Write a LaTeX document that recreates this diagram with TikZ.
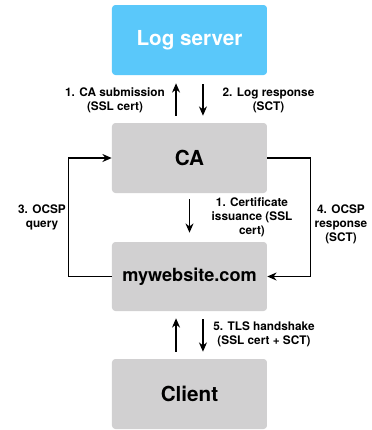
\documentclass[tikz,border=0pt]{standalone}
\usepackage{fontspec}
\setmainfont{TeX Gyre Heros}
\usetikzlibrary{arrows.meta}
\definecolor{logblue}{HTML}{5AC8FA}
\definecolor{boxgray}{HTML}{D1D0D1}
\begin{document}
\begin{tikzpicture}[x=0.75pt,y=-0.75pt,
  box/.style={rounded corners=2.5pt, inner sep=0pt, minimum width=116.25pt, minimum height=52.5pt, font=\bfseries\fontsize{15.5}{18}\selectfont},
  lbl/.style={align=center, inner sep=0pt, font=\bfseries\fontsize{8.85}{10.5}\selectfont},
  arr/.style={line width=1.1pt, -{Stealth[length=7pt,width=6pt]}}]
\useasboundingbox (0,0) rectangle (372,430);
\node[box, fill=logblue, text=white] (log) at (189.5,40) {Log server};
\node[box, fill=boxgray] (ca) at (189.5,158) {CA};
\node[box, fill=boxgray, minimum height=51.75pt, font=\bfseries\fontsize{13.6}{16}\selectfont] (web) at (189.5,276.5) {mywebsite.com};
\node[box, fill=boxgray] (client) at (189.5,394) {Client};
% Log <-> CA
\draw[arr, shorten <=5.25pt, shorten >=6pt] ([xshift=-10.1pt]ca.north) -- ([xshift=-10.1pt]log.south);
\draw[arr, shorten <=6.75pt, shorten >=5.25pt] ([xshift=10.1pt]log.south) -- ([xshift=10.1pt]ca.north);
% CA -> web
\draw[arr, shorten <=4.5pt, shorten >=6.75pt] (ca.south) -- (web.north);
% loops
\draw[arr] (web.west) -- ++(-43,0) |- (ca.west);
\draw[arr] (ca.east) -- ++(43,0) |- (web.east);
% web <-> client
\draw[arr, shorten <=5.25pt, shorten >=5.25pt] ([xshift=-10.1pt]client.north) -- ([xshift=-10.1pt]web.south);
\draw[arr, shorten <=6pt, shorten >=5.25pt] ([xshift=10.1pt]web.south) -- ([xshift=10.1pt]client.north);
% labels
\node[lbl] (l1) at (115,100) {1. CA submission\\(SSL cert)};
\node[lbl] (l2) at (268.5,100) {2. Log response\\(SCT)};
\node[lbl] (l3) at (252,217) {1. Certificate\\issuance (SSL\\cert)};
\node[lbl] (l4) at (42,217) {3. OCSP\\query};
\node[lbl] (l5) at (341,224) {4. OCSP\\response\\(SCT)};
\node[lbl] (l6) at (264,334.5) {5. TLS handshake\\(SSL cert + SCT)};
\end{tikzpicture}
\end{document}
